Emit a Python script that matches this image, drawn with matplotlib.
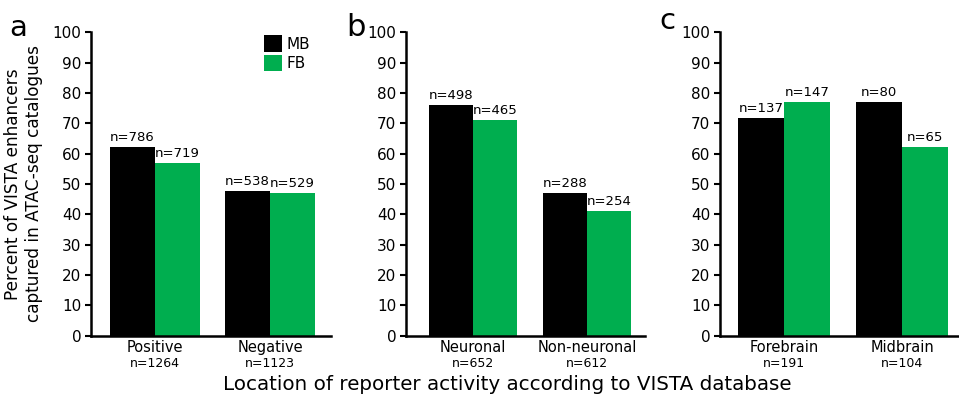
import matplotlib
matplotlib.use("Agg")
import matplotlib.pyplot as plt
from matplotlib.patches import Patch

plt.rcParams['font.family'] = ['DejaVu Sans']

# Data
panels = ['a', 'b', 'c']
categories = [['Positive', 'Negative'], ['Neuronal', 'Non-neuronal'], ['Forebrain', 'Midbrain']]
category_n = [['n=1264', 'n=1123'], ['n=652', 'n=612'], ['n=191', 'n=104']]
mb_values = [[62.2, 47.8], [76.0, 47.1], [71.7, 76.9]]
fb_values = [[56.8, 46.9], [71.0, 41.1], [76.9, 62.2]]
mb_n = [['n=786', 'n=538'], ['n=498', 'n=288'], ['n=137', 'n=80']]
fb_n = [['n=719', 'n=529'], ['n=465', 'n=254'], ['n=147', 'n=65']]
yticks = list(range(0, 101, 10))

MB_COLOR = '#000000'
FB_COLOR = '#00AE4F'

W, H = 959, 405
fig = plt.figure(figsize=(W / 100, H / 100), dpi=100)

# axes pixel extents: (left, right), bar group spacing (px)
ax_px = [(91, 331, 115), (406, 645, 114), (720, 958, 118)]
centers0 = [155, 473, 784]
y_top, y_bot = 32.3, 335.7
bw = 0.39

for i in range(3):
    l, r, sp = ax_px[i]
    ax = fig.add_axes([l / W, (H - y_bot) / H, (r - l) / W, (y_bot - y_top) / H])
    x0 = [0, 1]
    xm = [x - bw / 2 for x in x0]
    xf = [x + bw / 2 for x in x0]
    ax.bar(xm, mb_values[i], width=bw, color=MB_COLOR, edgecolor='none')
    ax.bar(xf, fb_values[i], width=bw, color=FB_COLOR, edgecolor='none')
    for j in range(2):
        ax.text(xm[j], mb_values[i][j] + 1.0, mb_n[i][j], ha='center', va='bottom', fontsize=9.5)
        ax.text(xf[j], fb_values[i][j] + 1.0, fb_n[i][j], ha='center', va='bottom', fontsize=9.5)
        ax.annotate(category_n[i][j], xy=(x0[j], 0), xycoords=('data', 'axes fraction'),
                    xytext=(0, -15.5), textcoords='offset points', ha='center', va='top', fontsize=9)
    lo = (l - centers0[i]) / sp
    hi = lo + (r - l) / sp
    ax.set_xlim(lo, hi)
    ax.set_ylim(0, 100)
    ax.set_yticks(yticks)
    ax.set_xticks(x0)
    ax.set_xticklabels(categories[i], fontsize=10.5)
    ax.tick_params(axis='x', length=0, pad=3)
    ax.tick_params(axis='y', length=4, width=1.5, labelsize=11, pad=3)
    for s in ['top', 'right']:
        ax.spines[s].set_visible(False)
    for s in ['left', 'bottom']:
        ax.spines[s].set_linewidth(1.8)
    if i == 0:
        ax.set_ylabel('Percent of VISTA enhancers\ncaptured in ATAC-seq catalogues', fontsize=12.2, labelpad=7)
        handles = [Patch(facecolor=MB_COLOR, label='MB'), Patch(facecolor=FB_COLOR, label='FB')]
        ax.legend(handles=handles, loc='upper right', bbox_to_anchor=(0.97, 1.035), frameon=False,
                  fontsize=11, handlelength=1.2, handleheight=1.25, handletextpad=0.3, labelspacing=0.2)

fig.text(9 / W, 1 - 36 / H, 'a', fontsize=21, va='baseline', ha='left')
fig.text(346 / W, 1 - 36 / H, 'b', fontsize=22, va='baseline', ha='left')
fig.text(659 / W, 1 - 29 / H, 'c', fontsize=21, va='baseline', ha='left')
fig.text(507 / W, 1 - 385 / H, 'Location of reporter activity according to VISTA database',
         fontsize=14.3, ha='center', va='center')

fig.savefig('out.png', dpi=100)
